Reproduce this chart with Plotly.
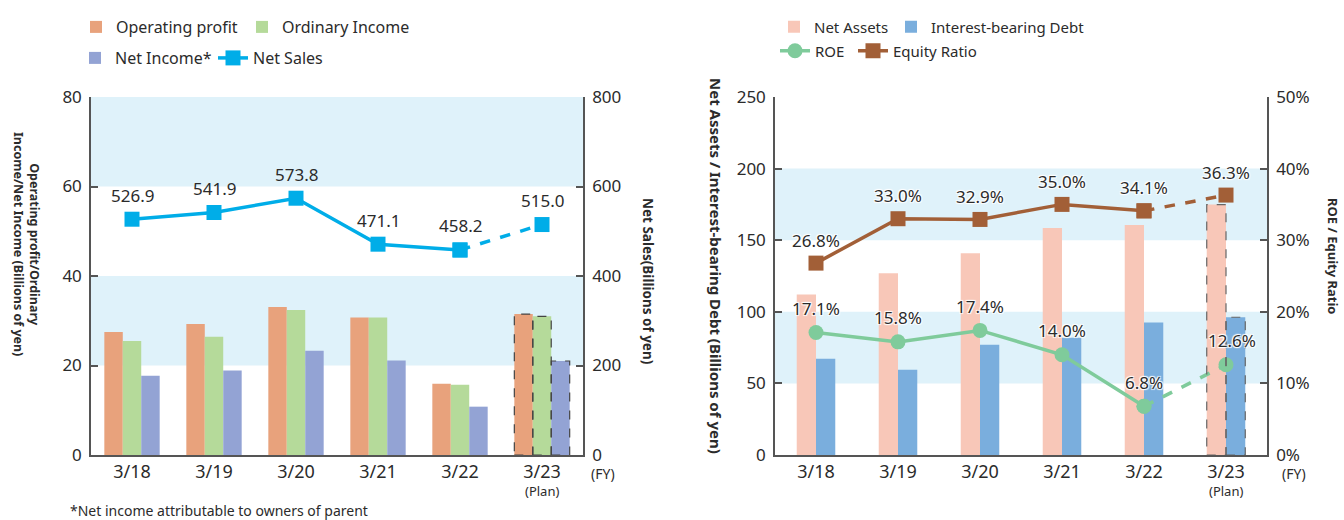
import plotly.graph_objects as go

# ---------------- data ----------------
categories = ["3/18", "3/19", "3/20", "3/21", "3/22", "3/23"]
tick_labels = ["3/18", "3/19", "3/20", "3/21", "3/22", "3/23"]
plan_index = 5
plan_note = "(Plan)"

operating_profit = [27.5, 29.3, 33.1, 30.7, 15.9, 31.5]
ordinary_income = [25.5, 26.4, 32.4, 30.7, 15.7, 31.0]
net_income = [17.7, 18.9, 23.3, 21.1, 10.8, 21.0]
net_sales = [526.9, 541.9, 573.8, 471.1, 458.2, 515.0]

net_assets = [112.1, 126.9, 140.9, 158.5, 160.6, 174.9]
interest_debt = [67.2, 59.5, 77.0, 81.9, 92.5, 96.2]
roe = [17.1, 15.8, 17.4, 14.0, 6.8, 12.6]
equity_ratio = [26.8, 33.0, 32.9, 35.0, 34.1, 36.3]

# ---------------- styles ----------------
FONT = "Noto Sans"
TXT = "#2b2b2b"
AX = "#555555"
BAND = "#dff2fa"
C_OP, C_ORD, C_NI, C_NS = "#e8a27c", "#b5da9a", "#93a3d4", "#00ade8"
C_NA, C_DEBT, C_ROE, C_EQ = "#f8c7b8", "#7aaedd", "#7fcb9b", "#a25f37"

W = 1344
H = 520
def px(x):
    return x / W
def py(y):
    return 1 - y / H

fig = go.Figure()

# ---- left chart bars ----
lw = 0.225
left_bars = [("Operating profit", operating_profit, C_OP, "legend"),
             ("Ordinary Income", ordinary_income, C_ORD, "legend2"),
             ("Net Income*", net_income, C_NI, "legend3")]
for k, (name, vals, col, lg) in enumerate(left_bars):
    off = -1.5 * lw + k * lw
    fig.add_trace(go.Bar(x=categories, y=vals, name=name, marker_color=col,
                         marker_line_width=0, width=lw, offset=off,
                         xaxis="x", yaxis="y", legend=lg))

# ---- net sales line ----
fig.add_trace(go.Scatter(x=categories[:plan_index], y=net_sales[:plan_index],
                         name="Net Sales", mode="lines+markers",
                         line=dict(color=C_NS, width=3.5),
                         marker=dict(symbol="square", size=15, color=C_NS),
                         xaxis="x", yaxis="y2", legend="legend4"))
fig.add_trace(go.Scatter(x=categories[plan_index - 1:], y=net_sales[plan_index - 1:],
                         mode="lines+markers", showlegend=False,
                         line=dict(color=C_NS, width=3.5, dash="dash"),
                         marker=dict(symbol="square", size=15, color=C_NS),
                         xaxis="x", yaxis="y2"))

# ---- right chart bars ----
rw = 0.235
right_bars = [("Net Assets", net_assets, C_NA, "legend5"),
              ("Interest-bearing Debt", interest_debt, C_DEBT, "legend6")]
for k, (name, vals, col, lg) in enumerate(right_bars):
    off = -rw + k * rw
    fig.add_trace(go.Bar(x=categories, y=vals, name=name, marker_color=col,
                         marker_line_width=0, width=rw, offset=off,
                         xaxis="x2", yaxis="y3", legend=lg))

# ---- ROE / equity lines ----
for name, vals, col, sym, lg in [("ROE", roe, C_ROE, "circle", "legend7"),
                                 ("Equity Ratio", equity_ratio, C_EQ, "square", "legend8")]:
    fig.add_trace(go.Scatter(x=categories[:plan_index], y=vals[:plan_index], name=name,
                             mode="lines+markers", line=dict(color=col, width=3.5),
                             marker=dict(symbol=sym, size=15, color=col),
                             xaxis="x2", yaxis="y4", legend=lg))
    fig.add_trace(go.Scatter(x=categories[plan_index - 1:], y=vals[plan_index - 1:],
                             mode="lines+markers", showlegend=False,
                             line=dict(color=col, width=3.5, dash="dash"),
                             marker=dict(symbol=sym, size=15, color=col),
                             xaxis="x2", yaxis="y4"))

# ---------------- shapes ----------------
shapes = []
for yref, bands in [("y", [(20, 40), (60, 80)]), ("y3", [(50, 100), (150, 200)])]:
    xr = "x domain" if yref == "y" else "x2 domain"
    for b0, b1 in bands:
        shapes.append(dict(type="rect", xref=xr, yref=yref, x0=0, x1=1, y0=b0, y1=b1,
                           fillcolor=BAND, line_width=0, layer="below"))
# dashed outline for plan bars
for k, (_, vals, _, _) in enumerate(left_bars):
    x0 = plan_index - 1.5 * lw + k * lw
    shapes.append(dict(type="rect", xref="x", yref="y", x0=x0, x1=x0 + lw, y0=0,
                       y1=vals[plan_index], line=dict(color="#444", width=1.2, dash="dash"),
                       fillcolor="rgba(0,0,0,0)", layer="above"))
for k, (_, vals, _, _) in enumerate(right_bars):
    x0 = plan_index - rw + k * rw
    shapes.append(dict(type="rect", xref="x2", yref="y3", x0=x0, x1=x0 + rw, y0=0,
                       y1=vals[plan_index], line=dict(color="#666", width=1.2, dash="dash"),
                       fillcolor="rgba(0,0,0,0)", layer="above"))

# ---------------- annotations ----------------
ann = []
SH = "1px 1px 1px white, -1px -1px 1px white, 1px -1px 1px white, -1px 1px 1px white"
for i, v in enumerate(net_sales):
    ann.append(dict(x=categories[i], y=v, xref="x", yref="y2", text=f"{v:.1f}",
                    showarrow=False, yshift=24, font=dict(size=17, color=TXT)))
for i, v in enumerate(equity_ratio):
    ann.append(dict(x=categories[i], y=v, xref="x2", yref="y4", text=f"{v:.1f}%",
                    showarrow=False, yshift=23, font=dict(size=17, color=TXT, shadow=SH)))
for i, v in enumerate(roe):
    ann.append(dict(x=categories[i], y=v, xref="x2", yref="y4", text=f"{v:.1f}%",
                    showarrow=False, yshift=24, xshift=6 if i == plan_index else 0,
                    font=dict(size=17, color=TXT, shadow=SH)))
# "(Plan)" note under the plan-year category of both charts
for xr in ["x", "x2"]:
    ann.append(dict(x=categories[plan_index], y=py(491), xref=xr, yref="paper",
                    text=plan_note, showarrow=False, yanchor="middle",
                    font=dict(size=13, color=TXT)))

def pa(x, y, text, size, angle=0, xanchor="center"):
    return dict(x=px(x), y=py(y), xref="paper", yref="paper", showarrow=False,
                textangle=angle, xanchor=xanchor, yanchor="middle", text=text,
                font=dict(size=size, color=TXT))

ann += [
    pa(27, 244, "<b>Operating profit/Ordinary<br>Income/Net Income (Billions of yen)</b>", 12.5, 90),
    pa(648, 281, "<b>Net Sales(Billions of yen)</b>", 13.5, 90),
    pa(716, 266, "<b>Net Assets / Interest-bearing Debt (Billions of yen)</b>", 15, 90),
    pa(1333, 256, "<b>ROE / Equity Ratio</b>", 13, 90),
    pa(603, 473, "(FY)", 14),
    pa(1294, 473, "(FY)", 14),
    pa(68, 510, "*Net income attributable to owners of parent", 14, 0, "left"),
]

# ---------------- axes ----------------
dom_y = [py(455), py(97)]
xcommon = dict(type="category", range=[-0.5, 5.5], showline=True, linecolor=AX, linewidth=1.5,
               ticks="", showgrid=False, tickvals=categories, ticktext=tick_labels,
               tickfont=dict(size=18, color=TXT), fixedrange=True, automargin=False)
ycommon = dict(showline=True, linecolor=AX, linewidth=1.5, ticks="inside", ticklen=7,
               tickcolor=AX, tickwidth=1.5, showgrid=False, zeroline=False,
               tickfont=dict(size=17, color=TXT), ticklabelstandoff=4, automargin=False)

def leg(x, y, size):
    return dict(orientation="h", xanchor="left", yanchor="middle", x=px(x), y=py(y),
                font=dict(size=size, color=TXT, family=FONT), bgcolor="rgba(0,0,0,0)",
                itemwidth=30)

fig.update_layout(
    width=W, height=H, margin=dict(l=0, r=0, t=0, b=0, autoexpand=False),
    paper_bgcolor="white", plot_bgcolor="rgba(0,0,0,0)",
    font=dict(family=FONT, color=TXT),
    barmode="overlay",
    xaxis=dict(domain=[px(91), px(583)], anchor="y", **xcommon),
    yaxis=dict(domain=dom_y, anchor="x", range=[0, 80], dtick=20, **ycommon),
    yaxis2=dict(overlaying="y", side="right", anchor="x", range=[0, 800], dtick=200, **ycommon),
    xaxis2=dict(domain=[px(775), px(1267)], anchor="y3", **xcommon),
    yaxis3=dict(domain=dom_y, anchor="x2", range=[0, 250], dtick=50, **ycommon),
    yaxis4=dict(overlaying="y3", side="right", anchor="x2", range=[0, 50], dtick=10,
                ticksuffix="%", **ycommon),
    legend=leg(76, 27, 16),
    legend2=leg(242, 27, 16),
    legend3=leg(75, 58, 16),
    legend4=leg(213, 58, 16),
    legend5=leg(774, 27, 15),
    legend6=leg(891, 27, 15),
    legend7=leg(775, 51, 15),
    legend8=leg(853, 51, 15),
    shapes=shapes, annotations=ann, showlegend=True,
)

fig.write_html("out.html")
